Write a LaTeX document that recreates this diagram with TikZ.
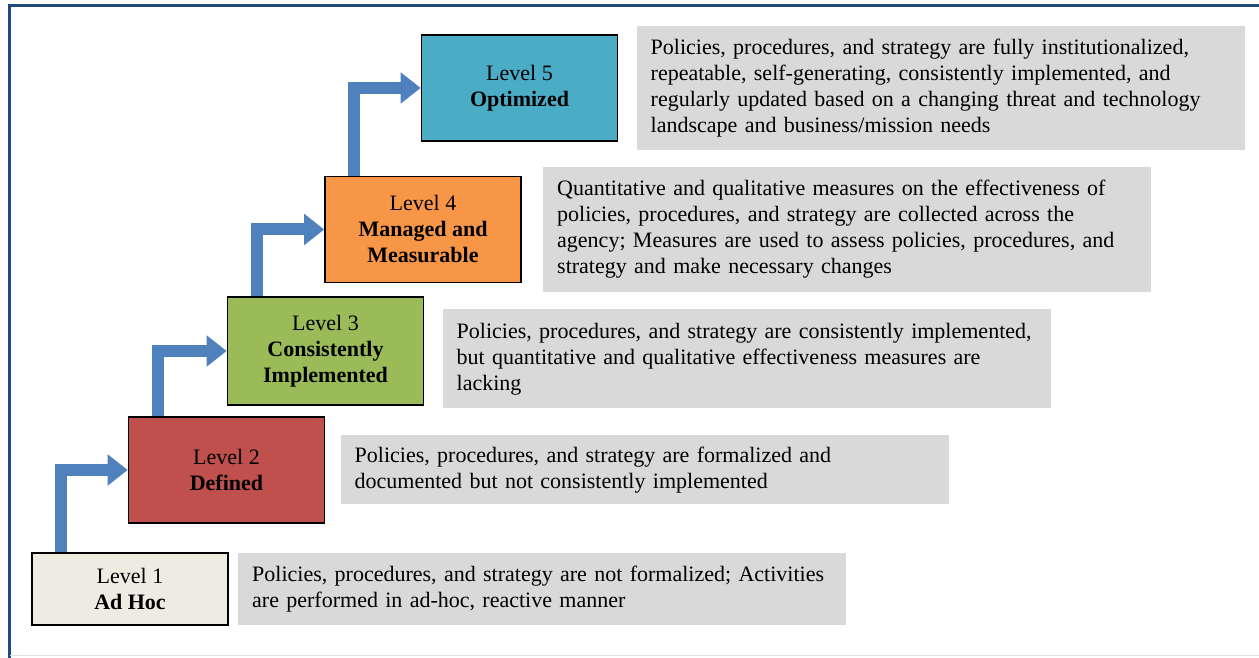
\documentclass[tikz,border=0pt]{standalone}
\usepackage{fontspec}
\setmainfont{Liberation Serif}
\usetikzlibrary{positioning}
\usetikzlibrary{arrows.meta}

\definecolor{frameblue}{HTML}{1F497D}
\definecolor{stepblue}{HTML}{4F81BD}
\definecolor{adhoc}{HTML}{EEECE1}
\definecolor{defined}{HTML}{C0504D}
\definecolor{consistent}{HTML}{9BBB59}
\definecolor{managed}{HTML}{F79646}
\definecolor{optimized}{HTML}{4BACC6}
\definecolor{descgray}{HTML}{D9D9D9}

\begin{document}
\begin{tikzpicture}[x=0.5pt,y=0.5pt,
  level node/.style={draw=black,line width=0.8pt,align=center,
    minimum width=98pt,minimum height=53pt,font=\fontsize{11}{13}\selectfont},
  desc node/.style={fill=descgray,align=left,text width=290pt,inner xsep=7pt,
    minimum height=#1,font=\fontsize{11}{13}\selectfont},
  step arrow/.style={stepblue,line width=6pt,line join=miter,
    -{Triangle[length=10pt,width=15pt]}}]

  \useasboundingbox (0,0) rectangle (1259,658);

  % frame
  \draw[frameblue,line width=1.5pt] (9,0) -- (9,652.5) -- (1259,652.5);
  \draw[black!12,line width=0.5pt] (10,2) -- (1259,2);

  % levels
  \node[level node,fill=adhoc,minimum height=36pt] (l1) at (130,69) {Level 1\\\textbf{Ad Hoc}};
  \node[level node,fill=defined] (l2) at (226.5,188) {Level 2\\\textbf{Defined}};
  \node[level node,fill=consistent,minimum height=54pt] (l3) at (325.5,307) {Level 3\\\textbf{Consistently}\\\textbf{Implemented}};
  \node[level node,fill=managed] (l4) at (423,428.5) {Level 4\\\textbf{Managed and}\\\textbf{Measurable}};
  \node[level node,fill=optimized] (l5) at (519.5,570) {Level 5\\\textbf{Optimized}};

  % descriptions
  \node[desc node=36pt] (d1) [right=4.5pt of l1] {Policies, procedures, and strategy are not formalized; Activities\\are performed in ad-hoc, reactive manner};
  \node[desc node=34.5pt] (d2) [right=7.5pt of l2] {Policies, procedures, and strategy are formalized and\\documented but not consistently implemented};
  \node[desc node=49.5pt] (d3) [right=9pt of l3,yshift=-4pt] {Policies, procedures, and strategy are consistently implemented,\\but quantitative and qualitative effectiveness measures are\\lacking};
  \node[desc node=62.5pt] (d4) [right=10.5pt of l4] {Quantitative and qualitative measures on the effectiveness of\\policies, procedures, and strategy are collected across the\\agency; Measures are used to assess policies, procedures, and\\strategy and make necessary changes};
  \node[desc node=62pt] (d5) [right=9pt of l5] {Policies, procedures, and strategy are fully institutionalized,\\repeatable, self-generating, consistently implemented, and\\regularly updated based on a changing threat and technology\\landscape and business/mission needs};

  % steps
  \draw[step arrow] ([xshift=15pt]l1.north west) |- (l2.west);
  \draw[step arrow] ([xshift=15pt]l2.north west) |- (l3.west);
  \draw[step arrow] ([xshift=15pt]l3.north west) |- (l4.west);
  \draw[step arrow] ([xshift=15pt]l4.north west) |- (l5.west);
\end{tikzpicture}
\end{document}
